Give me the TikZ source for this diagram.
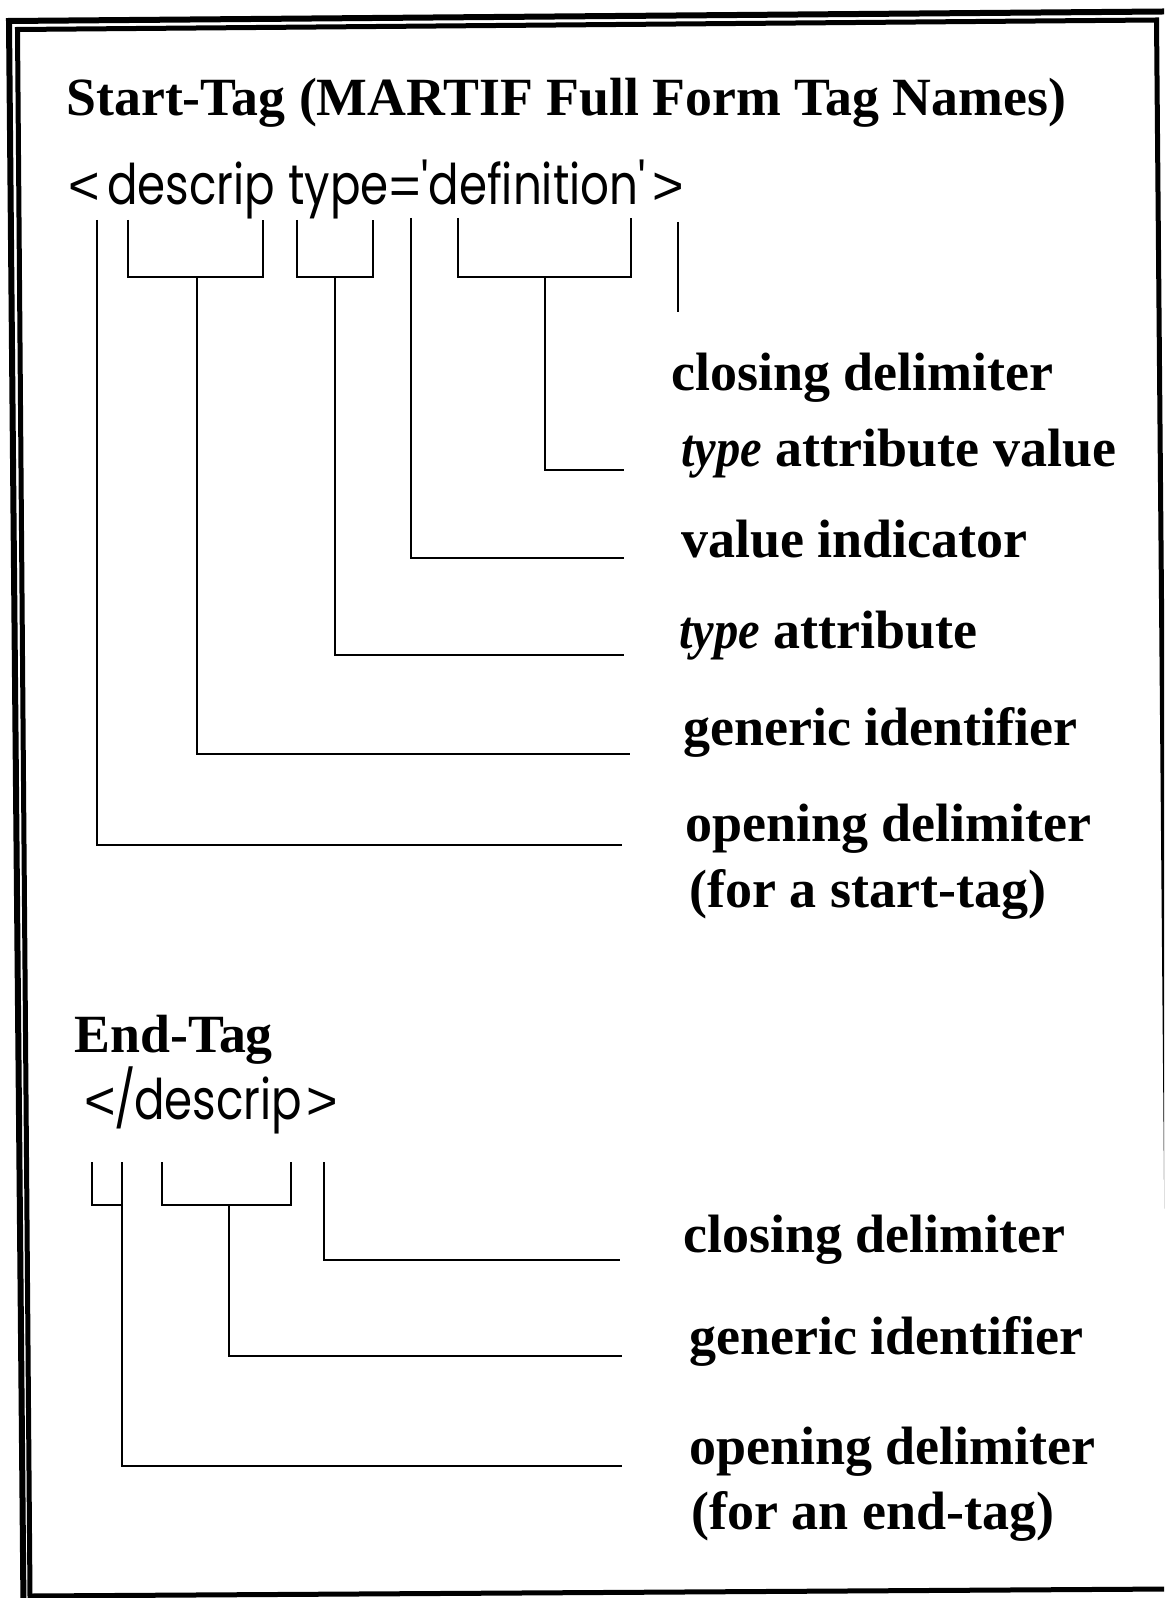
\documentclass[tikz,border=0pt]{standalone}
\usepackage{fontspec}
\usepackage{graphicx}
\setmainfont{Liberation Serif}
\newfontfamily\codefont{Poppins}
\newfontfamily\anglefont{Liberation Sans}
\newsavebox\mycodebox
\newlength\mycodewd
\newcommand\ctok[1]{\scalebox{\sx}[1]{\codefont\fontsize{28}{30}\selectfont #1}}
\newcommand\atok[1]{{\anglefont\fontsize{27}{30}\selectfont #1}}
\begin{document}
\sbox\mycodebox{\codefont\fontsize{28}{30}\selectfont descrip}%
\setlength\mycodewd{\wd\mycodebox}%
\pgfmathsetmacro\sx{84/\mycodewd}%
\begin{tikzpicture}[x=0.5pt,y=-0.5pt]
\tikzset{
  lbl/.style={anchor=base west, inner sep=0pt, font=\fontsize{27}{30}\selectfont\bfseries},
  ttl/.style={anchor=base west, inner sep=0pt, font=\fontsize{26.9}{30}\selectfont\bfseries},
  brk/.style={line width=0.85pt, line join=miter},
  codetxt/.style={anchor=base west, inner sep=0pt}
}
\useasboundingbox (0,0) rectangle (1164,1598);
\clip (0,0) rectangle (1164,1598);
\fill[white] (0,0) rectangle (1164,1598);
% frame
\draw[line width=3pt, line join=miter] (23.8,1640) -- (9,21) -- (1200,11.2);
\draw[line width=2.5pt, line join=miter] (17.5,29.5) -- (1156.5,20) -- (1170,1589) -- (30,1596) -- cycle;

% headings
\node[ttl] (h1) at (66,116) {Start-Tag (MARTIF Full Form Tag Names)};
\node[ttl] (h2) at (74,1052) {End-Tag};

% start-tag code tokens
\node[codetxt] (lt1)  at (68,205)  {\atok{<}};
\node[codetxt] (gi1)  at (107,205) {\ctok{descrip}};
\node[codetxt] (typ)  at (288,205) {\ctok{type}};
\node[codetxt] (eq)   at (389,205) {\atok{=}};
\node[codetxt] (val)  at (421,205) {\ctok{'definition'}};
\node[codetxt] (gt1)  at (652,205) {\atok{>}};
% end-tag code tokens
\node[codetxt] (lt2)  at (84,1119)  {\atok{<}};
\node[codetxt] (sl2)  at (114,1119) {\ctok{/}};
\node[codetxt] (gi2)  at (134,1119) {\ctok{descrip}};
\node[codetxt] (gt2)  at (306,1119) {\atok{>}};

% labels start-tag
\node[lbl] (l1) at (671,391) {closing delimiter};
\node[lbl] (l2) at (681,467) {\scalebox{0.9}[1]{\textit{type}} attribute value};
\node[lbl] (l3) at (681,557) {value indicator};
\node[lbl] (l4) at (679,648) {\scalebox{0.9}[1]{\textit{type}} attribute};
\node[lbl] (l5) at (683,745) {generic identifier};
\node[lbl] (l6) at (685,841) {opening delimiter};
\node[lbl] (l7) at (689,907) {(for a start-tag)};
% labels end-tag
\node[lbl] (e1) at (683,1252) {closing delimiter};
\node[lbl] (e2) at (689,1354) {generic identifier};
\node[lbl] (e3) at (689,1464) {opening delimiter};
\node[lbl] (e4) at (691,1529) {(for an end-tag)};

% connector points
\coordinate (p1) at (622,845);
\coordinate (p2) at (630,754);
\coordinate (p3) at (624,655);
\coordinate (p4) at (624,558);
\coordinate (p5) at (624,470);
\coordinate (q1) at (622,1466);
\coordinate (q2) at (622,1356);
\coordinate (q3) at (620,1260);

% start-tag brackets
\draw[brk] (97,220) -- (97,845) -- (p1);
\draw[brk] (128,220) -- (128,277) -- (263,277) -- (263,220);
\draw[brk] (197,277) -- (197,754) -- (p2);
\draw[brk] (297,220) -- (297,277) -- (373,277) -- (373,220);
\draw[brk] (335,277) -- (335,655) -- (p3);
\draw[brk] (411,218) -- (411,558) -- (p4);
\draw[brk] (458,218) -- (458,277) -- (631,277) -- (631,218);
\draw[brk] (545,277) -- (545,470) -- (p5);
\draw[brk] (678,222) -- (678,312);

% end-tag brackets
\draw[brk] (92,1162) -- (92,1205) -- (122,1205);
\draw[brk] (122,1162) -- (122,1466) -- (q1);
\draw[brk] (162,1162) -- (162,1205) -- (291,1205) -- (291,1162);
\draw[brk] (229,1205) -- (229,1356) -- (q2);
\draw[brk] (324,1162) -- (324,1260) -- (q3);
\end{tikzpicture}
\end{document}
